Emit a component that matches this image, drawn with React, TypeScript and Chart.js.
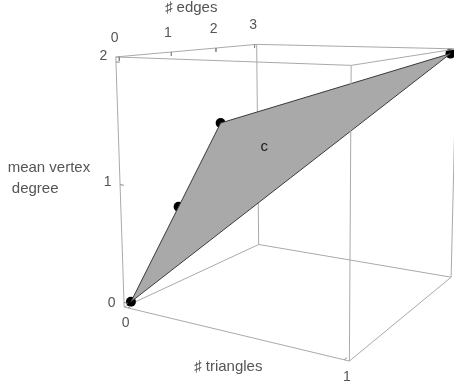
import React, { useEffect, useRef } from 'react';
import { Chart, registerables } from 'chart.js';
Chart.register(...registerables);

// Data: graphs on three vertices
const edges = [0, 1, 2, 3];
const triangles = [0, 0, 0, 1];
const degree = [0, 2 / 3, 4 / 3, 2];
const polygonLabel = 'c';

// Axis ticks
const edgeTicks = [0, 1, 2, 3];
const triangleTicks = [0, 1];
const degreeTicks = [0, 1, 2];
const edgeTitle = '\u266F edges';
const triangleTitle = '\u266F triangles';
const degreeTitle = ['mean vertex', ' degree'];

// Plot range (data range with 2% padding)
const E_RANGE = [-0.06, 3.06];
const T_RANGE = [-0.02, 1.02];
const D_RANGE = [-0.04, 2.04];

// Perspective camera (3x4 projection matrix, last entry 1)
const CAMERA = [
  64.95771, 168.5676, -6.407151, 128.7252,
  -0.7105789, -1.326243, -124.3846, 304.7455,
  0.08077101, -0.1493023, -0.02018914, 1,
];

function proj(e: number, t: number, d: number) {
  const m = CAMERA;
  const w = m[8] * e + m[9] * t + m[10] * d + m[11];
  return {
    x: (m[0] * e + m[1] * t + m[2] * d + m[3]) / w,
    y: (m[4] * e + m[5] * t + m[6] * d + m[7]) / w,
  };
}

const AXIS_COLOR = '#555555';
const BOX_COLOR = '#a9a9a9';

export default function App() {
  const ref = useRef<HTMLCanvasElement>(null);
  useEffect(() => {
    const [e0, e1] = E_RANGE, [t0, t1] = T_RANGE, [d0, d1] = D_RANGE;
    const line = (a: number[], b: number[], order: number, color = BOX_COLOR) => ({
      data: [proj(a[0], a[1], a[2]), proj(b[0], b[1], b[2])],
      showLine: true, borderColor: color, borderWidth: 1, pointRadius: 0, order,
    });
    const A = [e0, t0, d1], B = [e1, t0, d1], C = [e1, t1, d1], D = [e0, t1, d1];
    const E = [e0, t0, d0], F = [e0, t1, d0], G = [e1, t0, d0], H = [e1, t1, d0];
    const pts = edges.map((e, i) => proj(e, triangles[i], degree[i]));

    const tickSegs = [
      ...edgeTicks.map(v => line([v, t0, d1], [v, t0, d1 - 0.035], 3, '#888')),
      ...degreeTicks.map(v => line([e0, t0, v], [e0, t0 + 0.02, v], 3, '#888')),
      ...triangleTicks.map(v => line([e0, v, d0], [e0 + 0.06, v, d0], 3, '#888')),
    ];

    const textPlugin = {
      id: 'text3d',
      afterDraw(chart: any) {
        const ctx = chart.ctx as CanvasRenderingContext2D;
        ctx.save();
        ctx.fillStyle = AXIS_COLOR;
        ctx.textAlign = 'center';
        ctx.textBaseline = 'middle';
        ctx.font = '14px "Liberation Sans", Arial, sans-serif';
        edgeTicks.forEach(v => {
          const p = proj(v, t0, d1);
          ctx.fillText(String(v), p.x - 2, p.y - 15);
        });
        degreeTicks.forEach(v => {
          const p = proj(e0, t0, v);
          ctx.fillText(String(v), p.x - 10, p.y - 2);
        });
        triangleTicks.forEach(v => {
          const p = proj(e0, v, d0);
          ctx.fillText(String(v), p.x, p.y + 12.5);
        });
        ctx.font = '15px "Liberation Sans", Arial, sans-serif';
        const pe = proj((edgeTicks[0] + edgeTicks[edgeTicks.length - 1]) / 2, t0, d1);
        ctx.fillText(edgeTitle, pe.x - 2.5, pe.y - 38);
        const pt = proj(e0, (triangleTicks[0] + triangleTicks[triangleTicks.length - 1]) / 2, d0);
        ctx.fillText(triangleTitle, pt.x + 1, pt.y + 31.5);
        const pd = proj(e0, t0, (degreeTicks[0] + degreeTicks[degreeTicks.length - 1]) / 2);
        ctx.textAlign = 'left';
        ctx.fillText(degreeTitle[0], pd.x - 110, pd.y - 16.5);
        ctx.fillText(degreeTitle[1], pd.x - 110, pd.y + 4.5);
        // polygon label at centroid of hull vertices
        const hull = [0, 2, 3];
        const cx = hull.reduce((s, i) => s + edges[i], 0) / hull.length;
        const cy = hull.reduce((s, i) => s + triangles[i], 0) / hull.length;
        const cz = hull.reduce((s, i) => s + degree[i], 0) / hull.length;
        const pc = proj(cx, cy, cz);
        ctx.textAlign = 'center';
        ctx.fillStyle = '#1a1a1a';
        ctx.font = '15px "Liberation Sans", Arial, sans-serif';
        ctx.fillText(polygonLabel, pc.x - 5, pc.y - 8);
        ctx.restore();
      },
    };

    const chart = new Chart(ref.current!, {
      type: 'scatter',
      data: {
        datasets: [
          line(G, B, 10), line(G, E, 10), line(G, H, 10),
          { data: pts, pointRadius: 5, pointBackgroundColor: '#000', pointBorderWidth: 0, order: 8 } as any,
          {
            data: [...pts, pts[0]], showLine: true, fill: 'shape', backgroundColor: '#a9a9a9',
            borderColor: '#3a3a3a', borderWidth: 1, pointRadius: 0, order: 6,
          } as any,
          line(A, B, 4), line(B, C, 4), line(C, D, 4), line(D, A, 4),
          line(A, E, 4), line(D, F, 4), line(C, H, 4), line(E, F, 4), line(F, H, 4),
          ...tickSegs,
        ],
      },
      options: {
        animation: false, responsive: false, devicePixelRatio: 1,
        layout: { padding: 0 },
        plugins: { legend: { display: false }, tooltip: { enabled: false } },
        scales: {
          x: { type: 'linear', min: 0, max: 459, display: false },
          y: { type: 'linear', min: 0, max: 385, reverse: true, display: false },
        },
      },
      plugins: [textPlugin],
    });
    return () => chart.destroy();
  }, []);
  return (
    <div style={{ position: 'fixed', left: 0, top: 0, width: 459, height: 385, background: '#fff' }}>
      <canvas ref={ref} width={459} height={385} />
    </div>
  );
}
